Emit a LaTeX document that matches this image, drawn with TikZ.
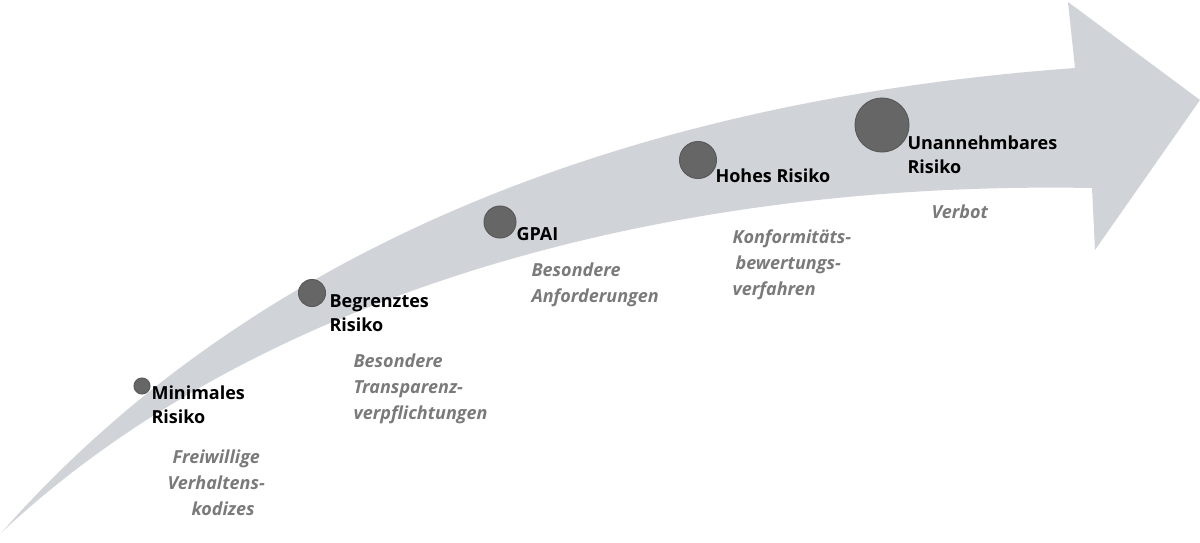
\documentclass[tikz,border=0pt]{standalone}
\usepackage{fontspec}
\setmainfont{Open Sans}
\begin{document}
\begin{tikzpicture}[x=1pt,y=-1pt,
  dot/.style={circle,fill=black!60,draw=black!65,line width=1pt,inner sep=0pt},
  lab/.style={anchor=north west,align=left,font=\fontsize{18}{24}\selectfont\bfseries,text=black},
  sub/.style={anchor=north west,align=left,font=\fontsize{18}{26}\selectfont\bfseries\itshape,text=black!52}]
\useasboundingbox (0,0) rectangle (1200,543);
\definecolor{band}{HTML}{D0D3D7}
\fill[band]
 (2,532) .. controls (180,330) and (500,110) .. (1075,68)
 -- (1068,2) -- (1200,100) -- (1095,250) -- (1092,188)
 .. controls (650,180) and (250,300) .. (2,532) -- cycle;
\node[dot,minimum size=16pt] (d1) at (142,386) {};
\node[dot,minimum size=27pt] (d2) at (312,293) {};
\node[dot,minimum size=32pt] (d3) at (500,222) {};
\node[dot,minimum size=37pt] (d4) at (698,160) {};
\node[dot,minimum size=54pt] (d5) at (882,125) {};
\node[lab] (l1) at (148,382) {Minimales\\Risiko};
\node[lab] (l2) at (326,291) {Begrenztes\\Risiko};
\node[lab] (l3) at (513,224) {GPAI};
\node[lab] (l4) at (712,165) {Hohes Risiko};
\node[lab] (l5) at (904,132) {Unannehmbares\\Risiko};
\node[sub] (s1) at (164,446) {\hspace*{5pt}Freiwillige\\Verhaltens-\\\hspace*{24pt}kodizes};
\node[sub] (s2) at (350,350) {Besondere\\Transparenz-\\verpflichtungen};
\node[sub] (s3) at (528,259) {Besondere\\Anforderungen};
\node[sub] (s4) at (729,226) {Konformitäts-\\\hspace*{3pt}bewertungs-\\verfahren};
\node[sub] (s5) at (928,201) {Verbot};
\end{tikzpicture}
\end{document}
